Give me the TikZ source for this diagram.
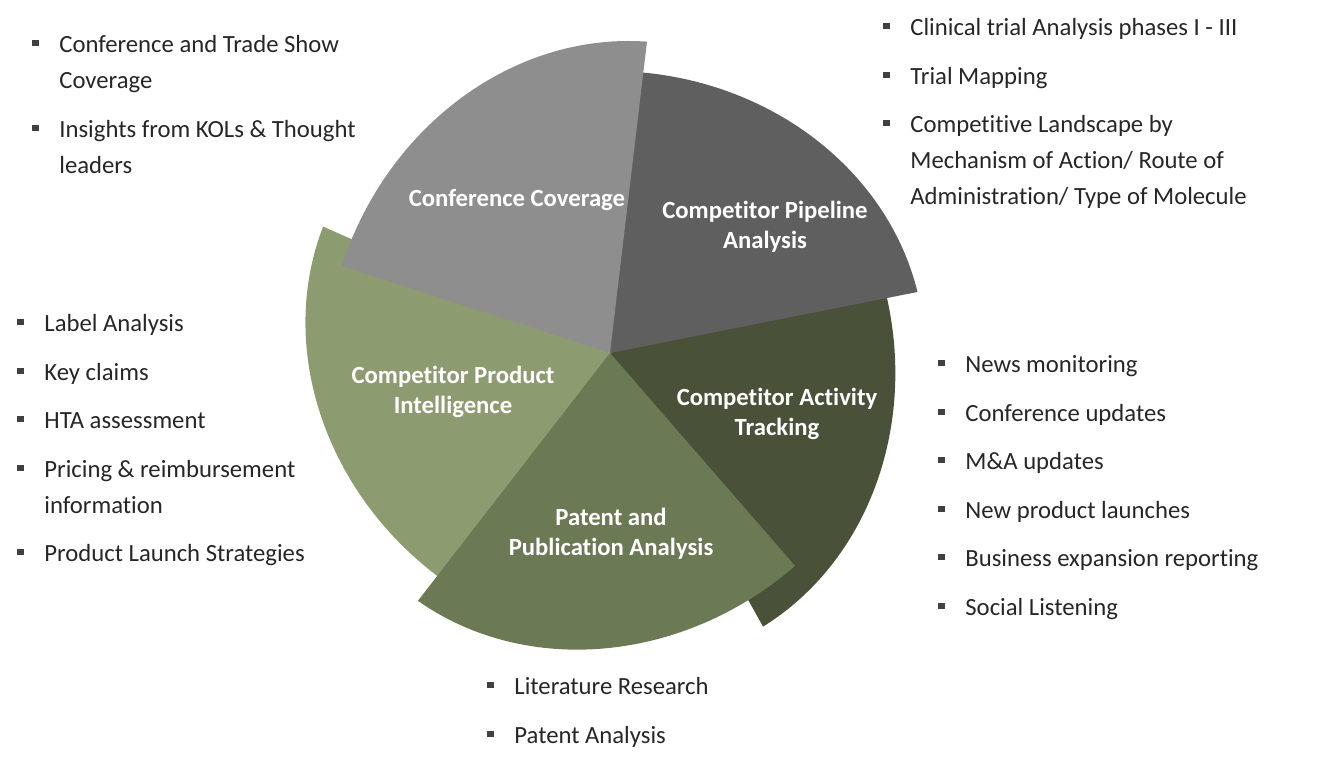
\documentclass[tikz,border=0pt]{standalone}
\usepackage{fontspec}
\setmainfont{Carlito}[Ligatures=NoCommon]
\usepackage{xcolor}
\usepackage{tikz}
\usetikzlibrary{positioning}
\definecolor{confgray}{HTML}{8E8E8E}
\definecolor{pipegray}{HTML}{5F5F5F}
\definecolor{actgreen}{HTML}{495238}
\definecolor{patgreen}{HTML}{6B7A55}
\definecolor{prodgreen}{HTML}{8C9C70}
\definecolor{textdark}{HTML}{262626}
\definecolor{bulletgray}{HTML}{404040}
\newcommand{\sqbullet}{\llap{\textcolor{bulletgray}{\rule[3pt]{3.2pt}{3.2pt}}\hspace{10.4pt}}}

\begin{document}
\begin{tikzpicture}[x=0.5pt, y=0.5pt, font=\fontsize{12.35}{18}\selectfont,
    wedgelabel/.style={text=white, align=center, font=\fontsize{12.35}{15}\selectfont\bfseries},
    bulletitem/.style={anchor=base west, align=left, inner sep=0pt, text=textdark}]
    \useasboundingbox (0, 0) rectangle (1319, 766);
    \coordinate (hub) at (610, 413);

    % Slices: elliptic pie pieces, each turned round the hub
    \fill[actgreen, shift={(hub)}, rotate=-72] (0, 0) -- (12.5:315 and 282) arc[start angle=12.5, end angle=90, x radius=315, y radius=282] -- cycle;
    \fill[prodgreen, shift={(hub)}, rotate=145] (0, 0) -- (12.5:315 and 282) arc[start angle=12.5, end angle=90, x radius=315, y radius=282] -- cycle;
    \fill[patgreen, shift={(hub)}, rotate=221] (0, 0) -- (12.5:315 and 282) arc[start angle=12.5, end angle=90, x radius=315, y radius=282] -- cycle;
    \fill[pipegray, shift={(hub)}, rotate=0] (0, 0) -- (12.5:315 and 282) arc[start angle=12.5, end angle=90, x radius=315, y radius=282] -- cycle;
    \fill[confgray, shift={(hub)}, rotate=72] (0, 0) -- (12.5:315 and 282) arc[start angle=12.5, end angle=90, x radius=315, y radius=282] -- cycle;

    % Slice labels
    \node[wedgelabel] (confLabel) at (517, 566) {Conference Coverage};
    \node[wedgelabel] (pipeLabel) at (765, 539) {Competitor Pipeline\\Analysis};
    \node[wedgelabel] (prodLabel) at (453, 374) {Competitor Product\\Intelligence};
    \node[wedgelabel] (actLabel) at (777, 352) {Competitor Activity\\Tracking};
    \node[wedgelabel] (patLabel) at (611, 232) {Patent and\\Publication Analysis};

    % Conference coverage list (base = last line)
    \node[bulletitem] (conf1) at (59, 677.5) {\sqbullet Conference and Trade Show\\Coverage};
    \node[bulletitem] (conf2) at (59, 592.5) {\sqbullet Insights from KOLs \& Thought\\leaders};

    % Pipeline list
    \node[bulletitem] (pipe1) at (910, 730.5) {\sqbullet Clinical trial Analysis phases I - III};
    \node[bulletitem] (pipe2) at (910, 681.5) {\sqbullet Trial Mapping};
    \node[bulletitem] (pipe3) at (910, 561.5) {\sqbullet Competitive Landscape by\\Mechanism of Action/ Route of\\Administration/ Type of Molecule};

    % Product intelligence list
    \node[bulletitem] (prod1) at (44, 434.5) {\sqbullet Label Analysis};
    \node[bulletitem] (prod2) at (44, 385.5) {\sqbullet Key claims};
    \node[bulletitem] (prod3) at (44, 337.5) {\sqbullet HTA assessment};
    \node[bulletitem] (prod4) at (44, 252.5) {\sqbullet Pricing \& reimbursement\\information};
    \node[bulletitem] (prod5) at (44, 204.5) {\sqbullet Product Launch Strategies};

    % Activity tracking list
    \node[bulletitem] (act1) at (965, 393.5) {\sqbullet News monitoring};
    \node[bulletitem] (act2) at (965, 344.5) {\sqbullet Conference updates};
    \node[bulletitem] (act3) at (965, 296.5) {\sqbullet M\&A updates};
    \node[bulletitem] (act4) at (965, 247.5) {\sqbullet New product launches};
    \node[bulletitem] (act5) at (965, 199.5) {\sqbullet Business expansion reporting};
    \node[bulletitem] (act6) at (965, 150.5) {\sqbullet Social Listening};

    % Patent and publication list
    \node[bulletitem] (pat1) at (514, 71.5) {\sqbullet Literature Research};
    \node[bulletitem] (pat2) at (514, 22.5) {\sqbullet Patent Analysis};
\end{tikzpicture}
\end{document}
